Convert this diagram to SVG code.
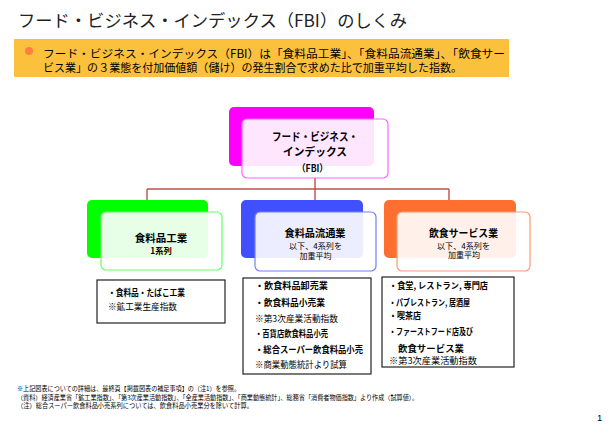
<svg xmlns="http://www.w3.org/2000/svg" width="615" height="426" viewBox="0 0 615 426">
<style>
text{font-family:"Noto Sans CJK JP","Noto Sans CJK SC",sans-serif;fill:#000}
.title{font-size:17px;fill:#222}
.ban{font-size:11.2px}
.nb{font-weight:bold;text-anchor:middle}
.sub{font-size:8px;text-anchor:middle}
.dt{font-size:8.6px}
.b{font-weight:bold}
.fn{font-size:6.3px}
.back{stroke:none}
.front{fill:#fff;fill-opacity:0.9;stroke-width:1.2}
.box{fill:#fff;stroke:#222;stroke-width:1.2}
.conn{fill:none;stroke:#C0504D;stroke-width:1.4}
</style>
<rect width="615" height="426" fill="#fff"/>
<g id="title">
<text class="title" x="18" y="26.5" textLength="389" lengthAdjust="spacingAndGlyphs">フード・ビジネス・インデックス（FBI）のしくみ</text>
</g>
<g id="banner">
<rect x="14" y="39" width="495" height="38" fill="#FCC13C"/>
<circle cx="29" cy="51" r="4" fill="#FF7F3F"/>
<text class="ban" x="43" y="57.5" textLength="462" lengthAdjust="spacingAndGlyphs">フード・ビジネス・インデックス（FBI）は「食料品工業」、「食料品流通業」、「飲食サー</text>
<text class="ban" x="43" y="72" textLength="419" lengthAdjust="spacingAndGlyphs">ビス業」の３業態を付加価値額（儲け）の発生割合で求めた比で加重平均した指数。</text>
</g>
<g id="connectors">
<path class="conn" d="M315 178V189M147 189H449M147 189V200M315 189V201M449 189V200"/>
</g>
<g id="node-fbi">
<rect class="back" x="229" y="107" width="145" height="59" rx="5" fill="#FF00FF"/>
<rect class="front" x="242" y="119" width="146" height="59" rx="5" stroke="#FF66FF"/>
<text class="nb" x="315" y="141" font-size="11" textLength="86" lengthAdjust="spacingAndGlyphs">フード・ビジネス・</text>
<text class="nb" x="315" y="156" font-size="11" textLength="64" lengthAdjust="spacingAndGlyphs">インデックス</text>
<text class="nb" x="312.5" y="171.5" font-size="10" textLength="31" lengthAdjust="spacingAndGlyphs">（FBI）</text>
</g>
<g id="node-manufacturing">
<rect class="back" x="87" y="200" width="121" height="58" rx="5" fill="#00FF00"/>
<rect class="front" x="101" y="212" width="121" height="58" rx="5" stroke="#66FF66"/>
<text class="nb" x="161" y="242.3" font-size="10.5">食料品工業</text>
<text class="nb" x="161" y="254" font-size="8.3">1系列</text>
</g>
<g id="node-distribution">
<rect class="back" x="241" y="200" width="122" height="58" rx="5" fill="#4050FF"/>
<rect class="front" x="255" y="212" width="121" height="59" rx="5" stroke="#7080FF"/>
<text class="nb" x="315" y="237.3" font-size="10.5" textLength="61" lengthAdjust="spacingAndGlyphs">食料品流通業</text>
<text class="sub" x="315.5" y="249.2" textLength="53" lengthAdjust="spacingAndGlyphs">以下、4系列を</text>
<text class="sub" x="315.5" y="258.8">加重平均</text>
</g>
<g id="node-foodservice">
<rect class="back" x="384" y="200" width="132" height="58" rx="5" fill="#FF6F30"/>
<rect class="front" x="397" y="212" width="133" height="59" rx="5" stroke="#FF9A70"/>
<text class="nb" x="463.5" y="237.3" font-size="10.5" textLength="69" lengthAdjust="spacingAndGlyphs">飲食サービス業</text>
<text class="sub" x="463.5" y="248.6" textLength="53" lengthAdjust="spacingAndGlyphs">以下、4系列を</text>
<text class="sub" x="464" y="258.2">加重平均</text>
</g>
<g id="detail-manufacturing">
<rect class="box" x="97" y="280" width="128" height="43"/>
<text class="dt b" x="108" y="296.3" textLength="77" lengthAdjust="spacingAndGlyphs">・食料品・たばこ工業</text>
<text class="dt" x="108" y="310.3" textLength="69" lengthAdjust="spacingAndGlyphs">※鉱工業生産指数</text>
</g>
<g id="detail-distribution">
<rect class="box" x="243" y="278" width="128" height="96"/>
<text class="dt b" x="255" y="289.3" textLength="73" lengthAdjust="spacingAndGlyphs">・飲食料品卸売業</text>
<text class="dt b" x="255" y="305.6" textLength="70" lengthAdjust="spacingAndGlyphs">・飲食料品小売業</text>
<text class="dt" x="255" y="322" textLength="83" lengthAdjust="spacingAndGlyphs">※第3次産業活動指数</text>
<text class="dt b" x="255" y="336.6" textLength="73" lengthAdjust="spacingAndGlyphs">・百貨店飲食料品小売</text>
<text class="dt b" x="255" y="353" textLength="108" lengthAdjust="spacingAndGlyphs">・総合スーパー飲食料品小売</text>
<text class="dt" x="255" y="368.2" textLength="92" lengthAdjust="spacingAndGlyphs">※商業動態統計より試算</text>
</g>
<g id="detail-foodservice">
<rect class="box" x="382" y="277" width="132" height="90"/>
<text class="dt b" x="389" y="289.3" textLength="99" lengthAdjust="spacingAndGlyphs">・食堂, レストラン, 専門店</text>
<text class="dt b" x="389" y="305.6" textLength="81" lengthAdjust="spacingAndGlyphs">・パブレストラン, 居酒屋</text>
<text class="dt b" x="389" y="318.6" textLength="32" lengthAdjust="spacingAndGlyphs">・喫茶店</text>
<text class="dt b" x="389" y="335" textLength="84" lengthAdjust="spacingAndGlyphs">・ファーストフード店及び</text>
<text class="dt b" x="398" y="351.8" textLength="66" lengthAdjust="spacingAndGlyphs">飲食サービス業</text>
<text class="dt" x="389" y="364" textLength="88" lengthAdjust="spacingAndGlyphs">※第3次産業活動指数</text>
</g>
<g id="footnotes">
<text class="fn" x="17" y="391" textLength="223" lengthAdjust="spacingAndGlyphs">※上記図表についての詳細は、最終頁【掲載図表の補足事項】の（注1）を参照。</text>
<text class="fn" x="17" y="399.5" textLength="401" lengthAdjust="spacingAndGlyphs">（資料）経済産業省「鉱工業指数」、「第3次産業活動指数」、「全産業活動指数」、「商業動態統計」、総務省「消費者物価指数」より作成（試算値）。</text>
<text class="fn" x="17" y="408" textLength="236" lengthAdjust="spacingAndGlyphs">（注）総合スーパー飲食料品小売系列については、飲食料品小売業分を除いて計算。</text>
<text x="597" y="421" font-size="9.5" style="font-family:'Liberation Sans',sans-serif">1</text>
</g>
</svg>
